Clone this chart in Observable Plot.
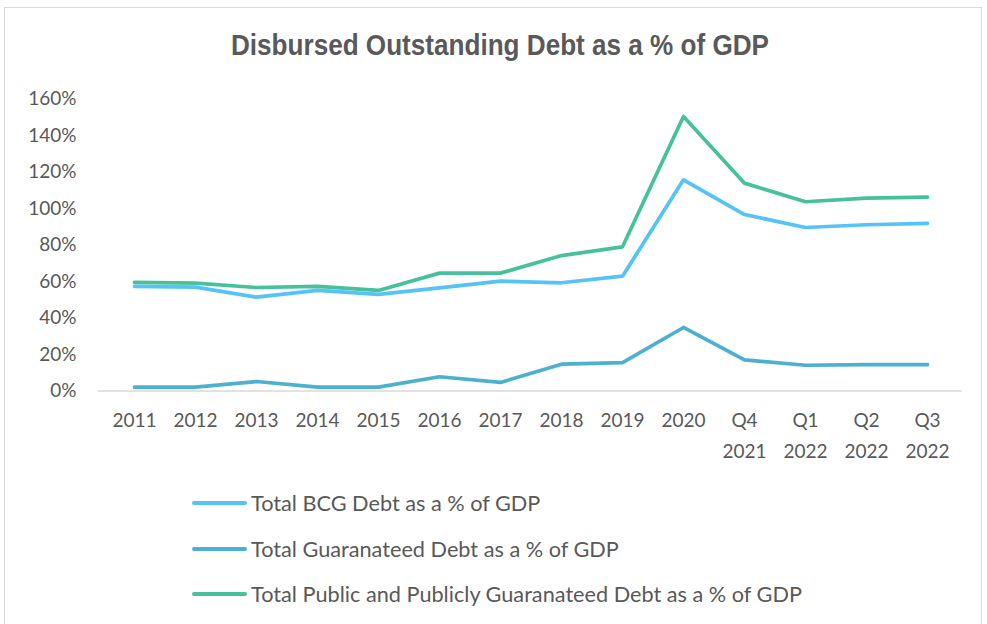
<!DOCTYPE html>
<html>
<head>
<meta charset="utf-8">
<script src="https://cdn.jsdelivr.net/npm/d3@7"></script>
<script src="https://cdn.jsdelivr.net/npm/@observablehq/plot@0.6"></script>
<style>
  html, body { margin: 0; padding: 0; background: #fff; }
  #frame { position: absolute; left: 4px; top: 7px; width: 978px; height: 640px; border: 1.5px solid #d9d9d9; box-sizing: border-box; }
  #title { position: absolute; left: 0; top: 29px; width: 1000px; text-align: center; font-family: "Liberation Sans", Arial, sans-serif; font-weight: bold; font-size: 29px; color: #595959; transform: scaleX(0.9); transform-origin: 500px 0; }
  #chart { position: absolute; left: 0; top: 70px; }
  .leg { position: absolute; left: 192px; height: 26px; line-height: 26px; font-family: Lato, sans-serif; font-size: 21.7px; color: #595959; display: flex; align-items: center; }
  .leg span.sw { display: inline-block; width: 55px; height: 4px; border-radius: 2px; margin-right: 4px; }
</style>
</head>
<body>
<div id="frame"></div>
<div id="title">Disbursed Outstanding Debt as a % of GDP</div>
<div id="chart"></div>
<div id="legend"></div>
<script>
const periods = ["2011","2012","2013","2014","2015","2016","2017","2018","2019","2020","Q4\n2021","Q1\n2022","Q2\n2022","Q3\n2022"];
const seriesNames = [
  "Total BCG Debt as a % of GDP",
  "Total Guaranateed Debt as a % of GDP",
  "Total Public and Publicly Guaranateed Debt as a % of GDP"
];
const seriesColors = ["#55C3F7", "#4BB1CF", "#46C19B"];
const bcgDebt = [57.3, 56.9, 51.4, 55.1, 52.9, 56.5, 60.2, 59.3, 62.9, 115.7, 96.7, 89.6, 91.1, 91.8];
const guaranteedDebt = [2.1, 2.1, 5.2, 2.1, 2.1, 7.8, 4.7, 14.7, 15.6, 34.8, 17.1, 14.1, 14.5, 14.4];
const ppgDebt = [59.5, 59.1, 56.7, 57.3, 55.1, 64.6, 64.6, 74.2, 79.0, 150.4, 113.9, 103.7, 105.7, 106.2];
const yTicks = [0, 20, 40, 60, 80, 100, 120, 140, 160];

const allSeries = [bcgDebt, guaranteedDebt, ppgDebt];
const data = [];
allSeries.forEach((vals, s) => vals.forEach((v, i) => data.push({period: periods[i], value: v, series: seriesNames[s]})));

const W = 987, H = 400;
const chart = Plot.plot({
  width: W,
  height: H,
  marginLeft: 98,
  marginRight: 25,
  marginTop: 28.5,
  marginBottom: 79.5,
  style: { fontFamily: "Lato, sans-serif", fontSize: "19px", color: "#595959", background: "transparent" },
  x: { type: "point", domain: periods, padding: 0.5, label: null },
  y: { domain: [0, 160], label: null },
  color: { domain: seriesNames, range: seriesColors },
  marks: [
    Plot.ruleY([0], { stroke: "#d9d9d9", strokeWidth: 1.5 }),
    Plot.axisY({ ticks: yTicks, tickSize: 0, tickPadding: 22, tickFormat: d => d + "%", fontSize: 19, fill: "#595959", label: null }),
    Plot.axisX({ tickSize: 0, tickPadding: 14, fontSize: 19, fill: "#595959", lineHeight: 1.63, label: null }),
    Plot.line(data, { x: "period", y: "value", z: "series", stroke: "series", strokeWidth: 3.7, strokeLinejoin: "round", strokeLinecap: "round" })
  ]
});
document.getElementById("chart").appendChild(chart);

const legend = document.getElementById("legend");
const legendTops = [490, 536, 581];
seriesNames.forEach((name, i) => {
  const d = document.createElement("div");
  d.className = "leg";
  d.style.top = legendTops[i] + "px";
  d.innerHTML = `<span class="sw" style="background:${seriesColors[i]}"></span><span>${name}</span>`;
  legend.appendChild(d);
});
</script>
</body>
</html>
